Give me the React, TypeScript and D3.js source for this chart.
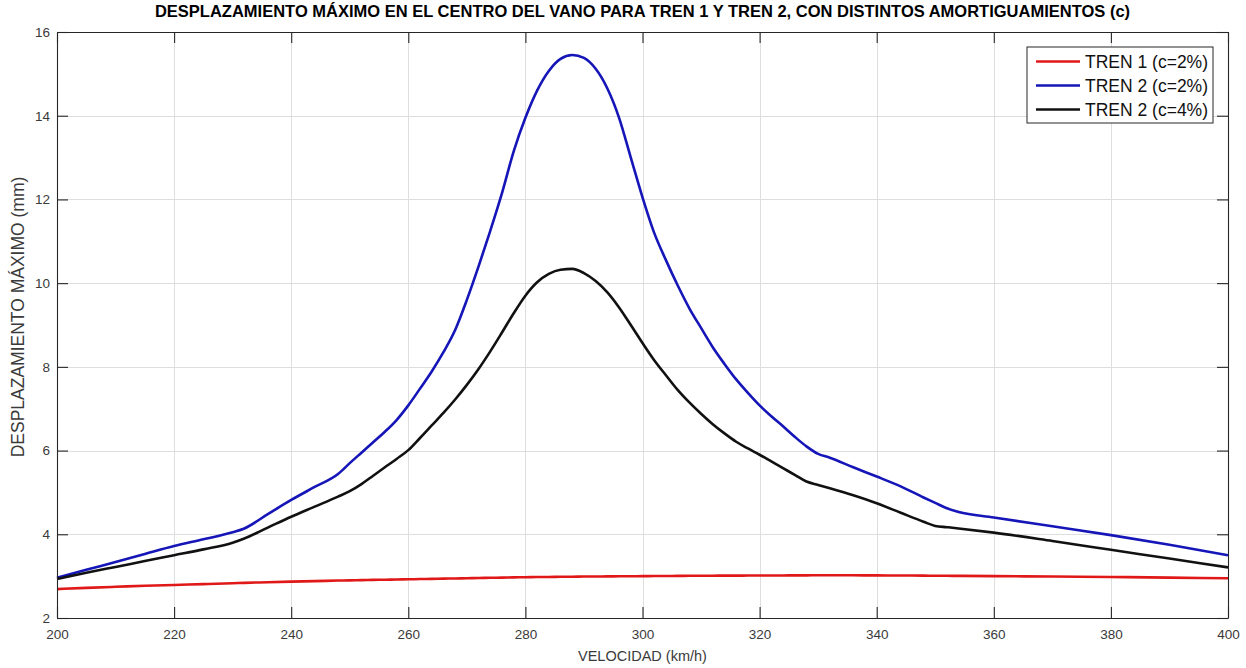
import React, { useEffect, useRef } from "react";
import * as d3 from "d3";

// velocidad (km/h)
const speeds = [
  200, 205, 210, 215, 220, 225, 230, 232, 236, 240, 244, 248, 250, 252, 254, 256, 258, 260, 262, 264,
  266, 268, 270, 272, 274, 276, 278, 280, 282, 284, 286, 288, 290, 292, 294, 296, 298, 300, 302, 304,
  306, 308, 310, 312, 314, 316, 318, 320, 322, 324, 326, 328, 330, 332, 336, 340, 344, 348, 350, 352,
  354, 360, 370, 380, 390, 400,
];

// desplazamiento maximo (mm)
const tren1c2 = [
  2.69, 2.72, 2.745, 2.77, 2.79, 2.81, 2.83, 2.84, 2.855, 2.87, 2.88, 2.895, 2.9, 2.905, 2.91, 2.915, 2.92, 2.925, 2.93, 2.935,
  2.94, 2.945, 2.95, 2.955, 2.96, 2.965, 2.97, 2.975, 2.978, 2.981, 2.984, 2.987, 2.99, 2.992, 2.994, 2.996, 2.998, 3.0, 3.002, 3.004,
  3.006, 3.008, 3.01, 3.011, 3.012, 3.013, 3.014, 3.015, 3.016, 3.017, 3.018, 3.019, 3.02, 3.02, 3.02, 3.018, 3.015, 3.012, 3.01, 3.008,
  3.006, 3.0, 2.99, 2.98, 2.965, 2.95,
];
const tren2c2 = [
  2.96, 3.15, 3.34, 3.53, 3.72, 3.88, 4.05, 4.14, 4.48, 4.82, 5.13, 5.44, 5.7, 5.95, 6.2, 6.45, 6.73, 7.08, 7.48, 7.89,
  8.35, 8.88, 9.6, 10.4, 11.25, 12.15, 13.15, 13.95, 14.6, 15.07, 15.36, 15.45, 15.38, 15.12, 14.65, 13.95, 13.0, 12.05, 11.2, 10.55,
  9.95, 9.4, 8.93, 8.47, 8.07, 7.7, 7.38, 7.08, 6.82, 6.58, 6.33, 6.1, 5.92, 5.83, 5.6, 5.38, 5.15, 4.88, 4.75, 4.62,
  4.53, 4.4, 4.19, 3.98, 3.75, 3.5,
];
const tren2c4 = [
  2.93, 3.08, 3.22, 3.36, 3.5, 3.64, 3.8, 3.9, 4.16, 4.42, 4.66, 4.9, 5.03, 5.2, 5.4, 5.6, 5.8, 6.01, 6.3, 6.6,
  6.9, 7.22, 7.57, 7.95, 8.37, 8.82, 9.28, 9.7, 10.02, 10.22, 10.32, 10.34, 10.24, 10.05, 9.78, 9.42, 9.0, 8.57, 8.16, 7.8,
  7.45, 7.15, 6.88, 6.63, 6.41, 6.21, 6.05, 5.9, 5.74, 5.58, 5.42, 5.26, 5.18, 5.1, 4.93, 4.74, 4.52, 4.3, 4.2, 4.17,
  4.14, 4.04, 3.84, 3.63, 3.42, 3.21,
];

const xTicks = [200, 220, 240, 260, 280, 300, 320, 340, 360, 380, 400];
const yTicks = [2, 4, 6, 8, 10, 12, 14, 16];
const seriesNames = ["TREN 1 (c=2%)", "TREN 2 (c=2%)", "TREN 2 (c=4%)"];
const seriesColors = ["#e01818", "#1515b8", "#111111"];
const seriesValues = [tren1c2, tren2c2, tren2c4];

const FONT = "'Liberation Sans', Arial, Helvetica, sans-serif";

export default function App() {
  const ref = useRef<SVGSVGElement>(null);

  useEffect(() => {
    const W = 1246,
      H = 668;
    const margin = { top: 32, right: 18, bottom: 50, left: 57 };
    const w = W - margin.left - margin.right,
      h = H - margin.top - margin.bottom;

    const svg = d3.select(ref.current);
    svg.selectAll("*").remove();

    const g = svg.append("g").attr("transform", `translate(${margin.left},${margin.top})`);

    const x = d3.scaleLinear().domain([200, 400]).range([0, w]);
    const y = d3.scaleLinear().domain([2, 16]).range([h, 0]);

    // grid
    const grid = g.append("g").attr("stroke", "#dedede").attr("stroke-width", 1);
    grid
      .selectAll(".vg")
      .data(xTicks)
      .enter()
      .append("line")
      .attr("x1", (d) => Math.round(x(d)) + 0.5)
      .attr("x2", (d) => Math.round(x(d)) + 0.5)
      .attr("y1", 0)
      .attr("y2", h);
    grid
      .selectAll(".hg")
      .data(yTicks)
      .enter()
      .append("line")
      .attr("x1", 0)
      .attr("x2", w)
      .attr("y1", (d) => Math.round(y(d)) + 0.5)
      .attr("y2", (d) => Math.round(y(d)) + 0.5);

    // series
    const line = d3
      .line<[number, number]>()
      .x((d) => x(d[0]))
      .y((d) => y(d[1]))
      .curve(d3.curveMonotoneX);

    seriesValues.forEach((vals, i) => {
      g.append("path")
        .datum(speeds.map((s, j) => [s, vals[j]] as [number, number]))
        .attr("fill", "none")
        .attr("stroke", seriesColors[i])
        .attr("stroke-width", 2.6)
        .attr("stroke-linejoin", "round")
        .attr("d", line);
    });

    // axes (inward ticks on all four sides)
    const styleAxis = (sel: any) => {
      sel.select(".domain").attr("stroke", "#262626").attr("stroke-width", 1.1);
      sel.selectAll(".tick line").attr("stroke", "#262626").attr("stroke-width", 1.1);
      sel
        .selectAll(".tick text")
        .attr("fill", "#3a3a3a")
        .style("font-family", FONT)
        .style("font-size", "13.5px");
    };

    g.append("g")
      .attr("transform", `translate(0,${h})`)
      .call(d3.axisBottom(x).tickValues(xTicks).tickSize(-11).tickSizeOuter(0).tickPadding(11))
      .call(styleAxis);
    g.append("g")
      .call(d3.axisTop(x).tickValues(xTicks).tickSize(-11).tickSizeOuter(0).tickFormat(() => ""))
      .call(styleAxis);
    g.append("g")
      .call(d3.axisLeft(y).tickValues(yTicks).tickSize(-11).tickSizeOuter(0).tickPadding(7))
      .call(styleAxis);
    g.append("g")
      .attr("transform", `translate(${w},0)`)
      .call(d3.axisRight(y).tickValues(yTicks).tickSize(-11).tickSizeOuter(0).tickFormat(() => ""))
      .call(styleAxis);

    // title
    svg
      .append("text")
      .attr("x", margin.left + w / 2)
      .attr("y", 17)
      .attr("text-anchor", "middle")
      .style("font-family", FONT)
      .style("font-weight", "bold")
      .style("font-size", "16.5px")
      .attr("fill", "#000")
      .text("DESPLAZAMIENTO MÁXIMO EN EL CENTRO DEL VANO PARA TREN 1 Y TREN 2, CON DISTINTOS AMORTIGUAMIENTOS (c)");

    // axis labels
    svg
      .append("text")
      .attr("x", margin.left + w / 2)
      .attr("y", 661)
      .attr("text-anchor", "middle")
      .style("font-family", FONT)
      .style("font-size", "14.5px")
      .attr("fill", "#3a3a3a")
      .text("VELOCIDAD (km/h)");

    svg
      .append("text")
      .attr("transform", `translate(24,${margin.top + h / 2 - 8}) rotate(-90)`)
      .attr("text-anchor", "middle")
      .style("font-family", FONT)
      .style("font-size", "17.5px")
      .attr("fill", "#3a3a3a")
      .text("DESPLAZAMIENTO MÁXIMO (mm)");

    // legend
    const legend = svg.append("g").attr("transform", "translate(1027,47)");
    legend
      .append("rect")
      .attr("width", 186)
      .attr("height", 76)
      .attr("fill", "#fff")
      .attr("stroke", "#262626")
      .attr("stroke-width", 1);
    seriesNames.forEach((name, i) => {
      const ry = 14.5 + i * 24;
      legend
        .append("line")
        .attr("x1", 9)
        .attr("x2", 53)
        .attr("y1", ry)
        .attr("y2", ry)
        .attr("stroke", seriesColors[i])
        .attr("stroke-width", 2.6);
      legend
        .append("text")
        .attr("x", 58)
        .attr("y", ry)
        .attr("dy", "0.36em")
        .style("font-family", FONT)
        .style("font-size", "17.5px")
        .attr("fill", "#111")
        .text(name);
    });
  }, []);

  return (
    <svg
      ref={ref}
      width={1246}
      height={668}
      style={{ position: "absolute", left: 0, top: 0, background: "#fff" }}
    />
  );
}
